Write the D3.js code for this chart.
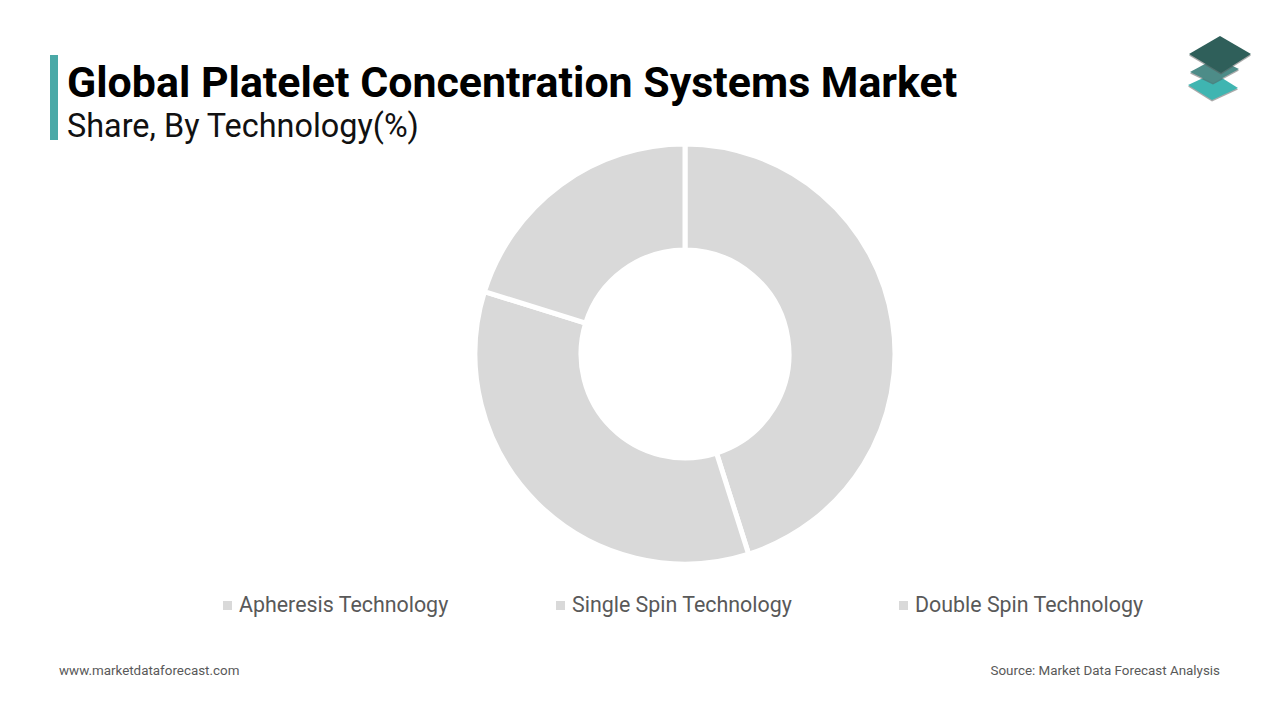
<!DOCTYPE html>
<html>
<head>
<meta charset="utf-8">
<script src="https://cdn.jsdelivr.net/npm/d3@7"></script>
<style>
  body { margin: 0; background: #fff; font-family: Roboto, "Noto Sans", sans-serif; }
</style>
</head>
<body>
<div id="chart"></div>
<script>
// chart data
var categories = ["Apheresis Technology", "Single Spin Technology", "Double Spin Technology"];
var shares = [45.1, 34.7, 20.2];
var sliceColors = ["#d9d9d9", "#d9d9d9", "#d9d9d9"];

var width = 1280, height = 720;

var svg = d3.select("#chart").append("svg")
    .attr("width", width)
    .attr("height", height);

// title block
svg.append("rect")
    .attr("x", 50).attr("y", 55)
    .attr("width", 8).attr("height", 85)
    .attr("fill", "#4aa9a7");

svg.append("text")
    .attr("x", 67).attr("y", 97)
    .attr("font-size", 42.9)
    .attr("font-weight", "bold")
    .attr("fill", "#000")
    .text("Global Platelet Concentration Systems Market");

svg.append("text")
    .attr("x", 67).attr("y", 137)
    .attr("font-size", 32.4)
    .attr("fill", "#111")
    .text("Share, By Technology(%)");

// logo (three stacked tiles), drawn bottom first
var logo = svg.append("g");
var tiles = [
    {pts: [[1188, 85], [1214, 73], [1238, 88], [1212, 100]], c: "#3fb5b1"},
    {pts: [[1190, 72], [1216, 58], [1239, 69], [1213, 83]], c: "#4d8c88"},
    {pts: [[1189, 54], [1220, 36], [1251, 54], [1221, 73]], c: "#2f5f5a"}
];
tiles.forEach(function(t) {
    logo.append("polygon")
        .attr("points", t.pts.map(function(p) { return p[0] + "," + (p[1] + 1.5); }).join(" "))
        .attr("fill", "#555")
        .attr("opacity", 0.5);
    logo.append("polygon")
        .attr("points", t.pts.map(function(p) { return p.join(","); }).join(" "))
        .attr("fill", t.c)
        .attr("stroke-linejoin", "round");
});

// donut
var cx = 685, cy = 354;
var pie = d3.pie().sort(null).value(function(d) { return d; });
var arc = d3.arc().innerRadius(104).outerRadius(210);

var g = svg.append("g").attr("transform", "translate(" + cx + "," + cy + ")");
g.selectAll("path")
    .data(pie(shares))
    .enter()
    .append("path")
    .attr("d", arc)
    .attr("fill", function(d, i) { return sliceColors[i]; })
    .attr("stroke", "#fff")
    .attr("stroke-width", 5);

// legend
var legendX = [223, 556, 899];
var legend = svg.selectAll("g.legend")
    .data(categories)
    .enter()
    .append("g")
    .attr("class", "legend")
    .attr("transform", function(d, i) { return "translate(" + legendX[i] + ",600)"; });

legend.append("rect")
    .attr("width", 9).attr("height", 9)
    .attr("y", 1)
    .attr("fill", function(d, i) { return sliceColors[i]; });

legend.append("text")
    .attr("x", 16).attr("y", 12)
    .attr("font-size", 21.4)
    .attr("fill", "#595959")
    .text(function(d) { return d; });

// footer
svg.append("text")
    .attr("x", 59).attr("y", 675)
    .attr("font-size", 13.4)
    .attr("fill", "#595959")
    .text("www.marketdataforecast.com");

svg.append("text")
    .attr("x", 1220).attr("y", 675)
    .attr("text-anchor", "end")
    .attr("font-size", 13.4)
    .attr("fill", "#595959")
    .text("Source: Market Data Forecast Analysis");
</script>
</body>
</html>
